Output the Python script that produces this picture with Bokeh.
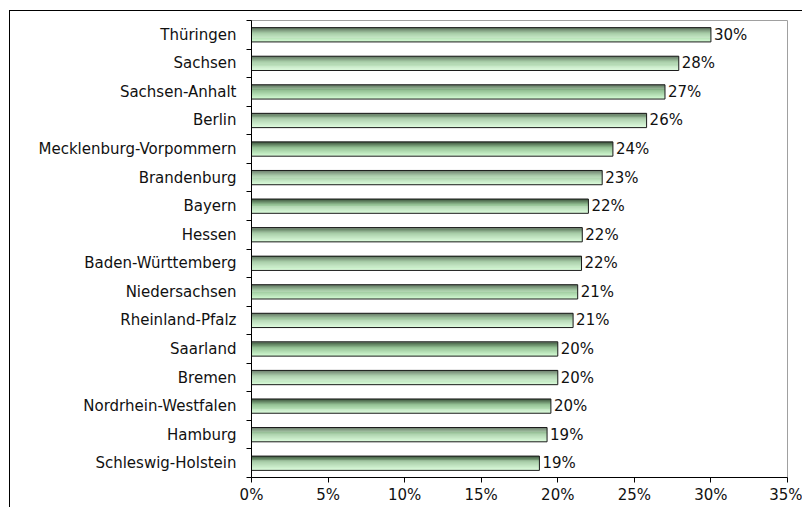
import numpy as np
from bokeh.plotting import figure
from bokeh.models import Range1d, FixedTicker, NumeralTickFormatter, ColumnDataSource
from bokeh.core.properties import value
from bokeh.embed import file_html
from bokeh.resources import INLINE

# ---- data (top to bottom) ----
states = ["Thüringen", "Sachsen", "Sachsen-Anhalt", "Berlin", "Mecklenburg-Vorpommern",
          "Brandenburg", "Bayern", "Hessen", "Baden-Württemberg", "Niedersachsen",
          "Rheinland-Pfalz", "Saarland", "Bremen", "Nordrhein-Westfalen", "Hamburg",
          "Schleswig-Holstein"]
shares = [0.300, 0.279, 0.270, 0.258, 0.236, 0.229, 0.220, 0.216, 0.2155, 0.213,
          0.210, 0.200, 0.200, 0.1955, 0.193, 0.188]
x_ticks = [0.0, 0.05, 0.10, 0.15, 0.20, 0.25, 0.30, 0.35]

FONT = "DejaVu Sans"
FS = "15px"
TXT = "#111111"
n = len(states)
idx = np.arange(n)
centers = idx + 0.5
bar_h = 0.5

p = figure(width=793, height=497, output_backend="svg", toolbar_location=None,
           x_range=Range1d(0, 0.35), y_range=Range1d(n, 0),
           min_border_left=241, min_border_top=9, min_border_right=16, min_border_bottom=31)
p.styles = {"border-top": "1px solid #000", "border-left": "1px solid #000",
            "margin-top": "10px", "margin-left": "9px"}
p.background_fill_color = "white"
p.border_fill_color = "white"
p.outline_line_color = "#a0a0a0"
p.xgrid.visible = False
p.ygrid.visible = False

# gradient stripes (dark top -> light bottom)
n_str = 14
top_c = np.array([66, 92, 66])
mid_c = np.array([150, 195, 150])
bot_c = np.array([210, 250, 210])
sh = bar_h / n_str
for k in range(n_str):
    t = k / (n_str - 1)
    if t < 0.4:
        c = top_c + (mid_c - top_c) * (t / 0.4)
    else:
        c = mid_c + (bot_c - mid_c) * ((t - 0.4) / 0.6)
    col = "#%02x%02x%02x" % tuple(int(v) for v in c)
    ys = centers - bar_h / 2 + (k + 0.5) * sh
    p.hbar(y=ys, right=shares, left=0, height=sh * 1.05, fill_color=col, line_color=None)

# outline
p.hbar(y=centers, right=shares, left=0, height=bar_h, fill_color=None,
       line_color="#1a1a1a", line_width=1)

# value labels
labels = ["%d%%" % int(np.floor(v * 100 + 0.5)) for v in shares]
src = ColumnDataSource(dict(x=shares, y=centers, t=labels))
p.text(x="x", y="y", text="t", source=src, x_offset=3, text_baseline="middle",
       text_align="left", text_font=value(FONT), text_font_size=FS, text_color=TXT)

# x axis
p.xaxis.ticker = FixedTicker(ticks=x_ticks)
p.xaxis.formatter = NumeralTickFormatter(format="0%")
p.xaxis.axis_line_color = "black"
p.xaxis.major_tick_line_color = "black"
p.xaxis.major_tick_out = 5
p.xaxis.major_tick_in = 0
p.xaxis.minor_tick_line_color = None
p.xaxis.major_label_standoff = 3
p.xaxis.major_label_text_font = FONT
p.xaxis.major_label_text_font_size = FS
p.xaxis.major_label_text_color = TXT

# y axis: labels at centers, ticks at boundaries
p.yaxis.ticker = FixedTicker(ticks=list(centers), minor_ticks=list(range(n + 1)))
p.yaxis.major_label_overrides = {float(c): s for c, s in zip(centers, states)}
p.yaxis.axis_line_color = "black"
p.yaxis.major_tick_line_color = None
p.yaxis.major_tick_out = 0
p.yaxis.major_tick_in = 0
p.yaxis.minor_tick_line_color = "black"
p.yaxis.minor_tick_out = 5
p.yaxis.minor_tick_in = 0
p.yaxis.major_label_standoff = 10
p.yaxis.major_label_text_font = FONT
p.yaxis.major_label_text_font_size = FS
p.yaxis.major_label_text_color = TXT

open("out.html", "w").write(file_html(p, INLINE))
